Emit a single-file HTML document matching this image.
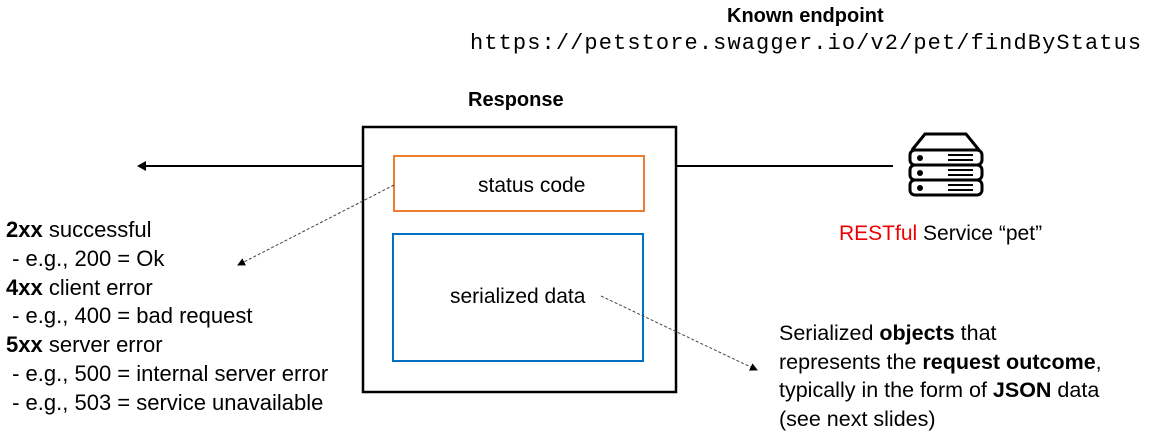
<!DOCTYPE html>
<html><head><meta charset="utf-8"><style>
body{margin:0;width:1156px;height:436px;background:#fff;position:relative;overflow:hidden;font-family:"Liberation Sans",sans-serif;color:#000}
.t{position:absolute;font-size:20px;line-height:22px;white-space:nowrap}
b{font-weight:bold}
</style></head><body>
<svg width="1156" height="436" style="position:absolute;left:0;top:0">
<defs><marker id="a" markerWidth="8" markerHeight="8" refX="7" refY="4" orient="auto" markerUnits="userSpaceOnUse"><path d="M0,0L8,4L0,8z" fill="#000"/></marker></defs>
<line x1="362" y1="166" x2="146" y2="166" stroke="#000" stroke-width="2"/>
<path d="M146,161L137,166L146,171z" fill="#000"/>
<line x1="676" y1="166" x2="893" y2="166" stroke="#000" stroke-width="2"/>
<rect x="363" y="127" width="313" height="265" fill="#fff" stroke="#000" stroke-width="2.5"/>
<rect x="394" y="156" width="250" height="55" fill="none" stroke="#ed7d31" stroke-width="2"/>
<rect x="393" y="234" width="250" height="127" fill="none" stroke="#0070c0" stroke-width="2"/>
<line x1="394" y1="185" x2="238" y2="265" stroke="#444" stroke-width="1" stroke-dasharray="3,2" marker-end="url(#a)"/>
<line x1="601" y1="296" x2="757" y2="370" stroke="#444" stroke-width="1" stroke-dasharray="3,2" marker-end="url(#a)"/>
<g fill="none" stroke="#000" stroke-width="3">
<path d="M912,150L925,134H966L979,150"/>
<rect x="910" y="150" width="72" height="15" rx="5"/>
<rect x="910" y="165" width="72" height="15" rx="5"/>
<rect x="910" y="180" width="72" height="15" rx="5"/>
</g>
<g fill="#000"><circle cx="920" cy="158" r="3"/><circle cx="920" cy="173" r="3"/><circle cx="920" cy="188" r="3"/></g>
<g stroke="#000" stroke-width="2"><path d="M948,155H973M948,160H973M948,170H973M948,175H973M948,185H973M948,190H973"/></g>
</svg>
<div class="t" style="left:727px;top:5px;font-weight:bold">Known endpoint</div>
<div class="t" style="left:470px;top:33px;font-family:'Liberation Mono',monospace;font-size:22px;letter-spacing:1.1px">https://petstore.swagger.io/v2/pet/findByStatus</div>
<div class="t" style="left:468px;top:89px;font-weight:bold">Response</div>
<div class="t" style="left:478px;top:175px;font-size:21px">status code</div>
<div class="t" style="left:450px;top:286px;font-size:21px">serialized data</div>
<div class="t" style="left:839px;top:223px;font-size:21px"><span style="color:#e00">RESTful</span> Service “pet”</div>
<div class="t" style="left:6px;top:216px;line-height:28.8px;font-size:22px"><b>2xx</b> successful<br>&nbsp;- e.g., 200 = Ok<br><b>4xx</b> client error<br>&nbsp;- e.g., 400 = bad request<br><b>5xx</b> server error<br>&nbsp;- e.g., 500 = internal server error<br>&nbsp;- e.g., 503 = service unavailable</div>
<div class="t" style="left:779px;top:319px;line-height:28.6px;font-size:21.5px">Serialized <b>objects</b> that<br>represents the <b>request outcome</b>,<br>typically in the form of <b>JSON</b> data<br>(see next slides)</div>
</body></html>
